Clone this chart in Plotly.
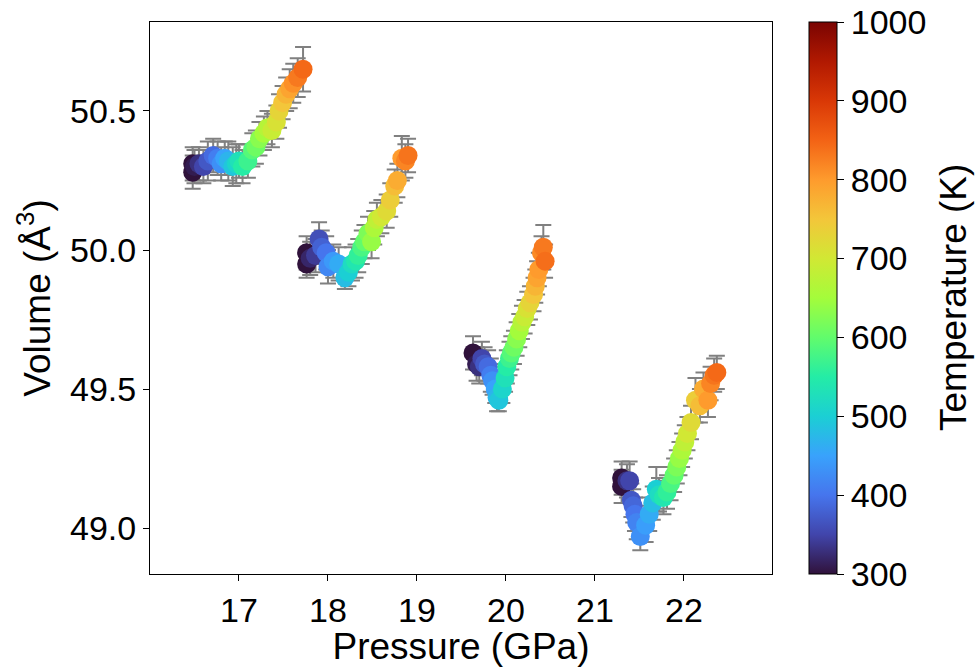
import plotly.graph_objects as go

# ---- data ----
T1 = [300, 300, 310, 330, 350, 370, 390, 410, 430, 450, 470, 490, 510, 530, 550, 570, 590, 610, 630, 650, 670, 690, 710, 730, 750, 770, 790, 810, 830, 845]
P1 = [16.48, 16.48, 16.50, 16.55, 16.60, 16.65, 16.71, 16.76, 16.80, 16.84, 16.88, 16.93, 16.97, 17.00, 17.04, 17.10, 17.15, 17.19, 17.23, 17.28, 17.32, 17.37, 17.42, 17.45, 17.49, 17.53, 17.57, 17.61, 17.66, 17.72]
V1 = [50.31, 50.28, 50.30, 50.31, 50.30, 50.32, 50.34, 50.33, 50.31, 50.33, 50.32, 50.30, 50.31, 50.32, 50.30, 50.32, 50.36, 50.37, 50.40, 50.42, 50.44, 50.43, 50.46, 50.50, 50.53, 50.56, 50.58, 50.60, 50.62, 50.65]
E1 = [0.06, 0.06, 0.06, 0.06, 0.06, 0.07, 0.06, 0.06, 0.06, 0.06, 0.07, 0.07, 0.07, 0.06, 0.06, 0.06, 0.06, 0.06, 0.06, 0.06, 0.06, 0.06, 0.06, 0.06, 0.06, 0.06, 0.07, 0.07, 0.07, 0.08]

T2 = [300, 300, 320, 340, 360, 380, 400, 420, 440, 460, 480, 500, 520, 540, 560, 580, 600, 620, 640, 660, 680, 700, 720, 740, 760, 780, 800, 820, 835]
P2 = [17.76, 17.76, 17.80, 17.86, 17.90, 17.93, 17.98, 18.00, 18.06, 18.12, 18.19, 18.23, 18.27, 18.31, 18.34, 18.38, 18.41, 18.45, 18.49, 18.52, 18.55, 18.60, 18.66, 18.70, 18.75, 18.78, 18.83, 18.87, 18.90]
V2 = [49.99, 49.95, 49.97, 49.98, 50.04, 50.01, 49.99, 49.94, 49.96, 49.95, 49.90, 49.92, 49.95, 49.96, 49.98, 50.01, 50.03, 50.06, 50.03, 50.08, 50.11, 50.12, 50.14, 50.18, 50.23, 50.25, 50.33, 50.32, 50.34]
E2 = [0.06, 0.05, 0.06, 0.06, 0.06, 0.06, 0.06, 0.06, 0.06, 0.06, 0.04, 0.05, 0.06, 0.06, 0.06, 0.06, 0.06, 0.06, 0.06, 0.06, 0.06, 0.06, 0.06, 0.06, 0.06, 0.06, 0.08, 0.06, 0.06]

T3 = [300, 310, 330, 350, 370, 390, 410, 430, 450, 470, 490, 510, 530, 550, 570, 590, 610, 630, 650, 670, 690, 710, 730, 750, 770, 790, 800, 815, 830, 840]
P3 = [19.63, 19.67, 19.70, 19.73, 19.76, 19.80, 19.83, 19.85, 19.88, 19.90, 19.92, 19.96, 19.99, 20.01, 20.04, 20.06, 20.09, 20.12, 20.15, 20.18, 20.21, 20.24, 20.27, 20.31, 20.33, 20.35, 20.37, 20.40, 20.42, 20.44]
V3 = [49.63, 49.59, 49.58, 49.61, 49.59, 49.58, 49.55, 49.53, 49.50, 49.47, 49.46, 49.50, 49.54, 49.58, 49.61, 49.63, 49.65, 49.68, 49.71, 49.74, 49.76, 49.79, 49.81, 49.84, 49.87, 49.90, 49.93, 49.99, 50.01, 49.96]
E3 = [0.06, 0.06, 0.06, 0.06, 0.06, 0.06, 0.06, 0.05, 0.05, 0.05, 0.04, 0.05, 0.05, 0.06, 0.06, 0.06, 0.06, 0.06, 0.06, 0.06, 0.06, 0.06, 0.06, 0.06, 0.06, 0.06, 0.06, 0.06, 0.08, 0.06]

T4 = [300, 300, 330, 350, 370, 385, 400, 415, 430, 445, 460, 480, 500, 520, 540, 560, 580, 600, 620, 640, 660, 680, 700, 720, 740, 760, 780, 800, 820, 835, 845]
P4 = [21.30, 21.30, 21.36, 21.39, 21.41, 21.43, 21.45, 21.47, 21.51, 21.57, 21.61, 21.65, 21.69, 21.72, 21.77, 21.81, 21.85, 21.89, 21.92, 21.95, 21.98, 22.01, 22.04, 22.08, 22.13, 22.18, 22.22, 22.27, 22.30, 22.34, 22.37]
V4 = [49.18, 49.15, 49.17, 49.17, 49.10, 49.08, 49.05, 49.02, 48.97, 49.01, 49.05, 49.09, 49.14, 49.12, 49.11, 49.13, 49.16, 49.19, 49.22, 49.25, 49.28, 49.31, 49.34, 49.38, 49.46, 49.44, 49.50, 49.46, 49.52, 49.55, 49.56]
E4 = [0.06, 0.06, 0.06, 0.07, 0.06, 0.06, 0.06, 0.06, 0.05, 0.06, 0.06, 0.06, 0.08, 0.06, 0.06, 0.06, 0.06, 0.06, 0.06, 0.06, 0.06, 0.06, 0.06, 0.06, 0.08, 0.06, 0.06, 0.06, 0.06, 0.06, 0.06]

X_TICKS = [17, 18, 19, 20, 21, 22]
Y_TICKS = [49.0, 49.5, 50.0, 50.5]
C_TICKS = [300, 400, 500, 600, 700, 800, 900, 1000]

FONT = "Liberation Sans, Arial, sans-serif"
FS_TICK = 34
FS_TITLE = 37

clusters = [(T1, P1, V1, E1), (T2, P2, V2, E2), (T3, P3, V3, E3), (T4, P4, V4, E4)]

fig = go.Figure()

# error bars first (behind markers)
for T, P, V, E in clusters:
    fig.add_trace(go.Scatter(
        x=P, y=V, mode="markers",
        marker=dict(size=1, opacity=0),
        error_y=dict(type="data", array=E, visible=True, color="#808080", thickness=2, width=8),
        showlegend=False, hoverinfo="skip"))

for i, (T, P, V, E) in enumerate(clusters):
    fig.add_trace(go.Scatter(
        x=P, y=V, mode="markers",
        marker=dict(size=19, color=T, colorscale="Turbo", cmin=300, cmax=1000,
                    line=dict(width=0), opacity=1,
                    showscale=(i == 0),
                    colorbar=dict(
                        x=1.0595, xanchor="left", xpad=0, y=0.5, yanchor="middle", ypad=0,
                        len=1, lenmode="fraction", thickness=28, thicknessmode="pixels",
                        outlinecolor="black", outlinewidth=1,
                        tickvals=C_TICKS, ticks="outside", ticklen=7, tickcolor="black",
                        tickfont=dict(family=FONT, size=FS_TICK, color="black"),
                    )),
        showlegend=False))

axis_common = dict(
    showgrid=False, zeroline=False, showline=True, linecolor="black", linewidth=1,
    mirror=True, ticks="outside", ticklen=6, tickcolor="black", automargin=False,
    tickfont=dict(family=FONT, size=FS_TICK, color="black"),
)

fig.update_xaxes(range=[16.0, 22.99], tickvals=X_TICKS,
                 title=dict(text="Pressure (GPa)", font=dict(family=FONT, size=FS_TITLE, color="black"), standoff=4),
                 **axis_common)
fig.update_yaxes(range=[48.835, 50.82], tickvals=Y_TICKS, tickformat=".1f",
                 title=dict(text="Volume (Å<sup>3</sup>)", font=dict(family=FONT, size=FS_TITLE, color="black"), standoff=8),
                 **axis_common)

# colorbar title as an annotation for precise placement
fig.add_annotation(
    text="Temperature (K)", textangle=-90, showarrow=False,
    xref="paper", yref="paper", x=1.291, y=0.5, xanchor="center", yanchor="middle",
    font=dict(family=FONT, size=FS_TITLE, color="black"))

fig.update_layout(
    width=977, height=667,
    margin=dict(l=150, r=205, t=22, b=93, pad=0, autoexpand=False),
    paper_bgcolor="white", plot_bgcolor="white",
    font=dict(family=FONT, color="black"),
)

fig.write_html("out.html")
